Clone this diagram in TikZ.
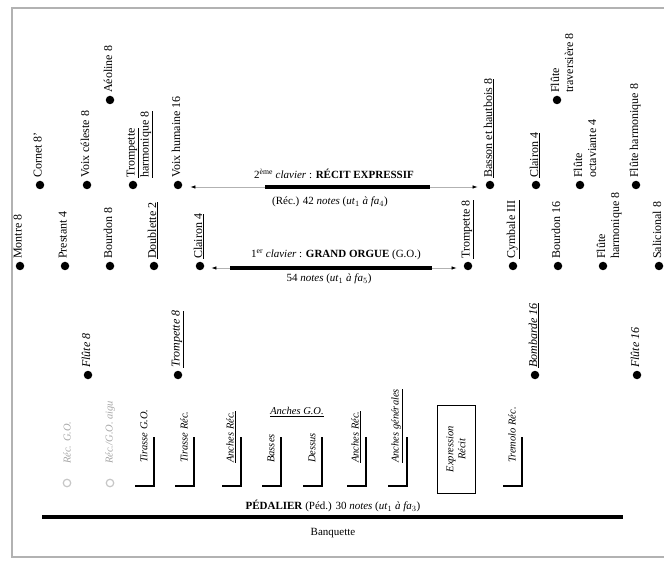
\documentclass[tikz,border=0pt]{standalone}
\usepackage{fontspec}
\setmainfont{Liberation Serif}
\usetikzlibrary{arrows.meta}
\newcommand\labstop[3][]{\node[lab,#1] at ([shift={(-6.5,-7)}]#2.center) {#3};}
\begin{document}
\begin{tikzpicture}[x=1pt,y=-1pt,
  stop/.style={circle,fill=black,inner sep=0pt,minimum size=8.5pt},
  lab/.style={rotate=90,anchor=north west,align=left,inner sep=0pt,font=\fontsize{12}{14}\selectfont},
  ital/.style={font=\fontsize{12}{14}\selectfont\itshape},
  plabel/.style={rotate=90,anchor=west,inner sep=0pt,align=center,font=\fontsize{10.5}{12}\selectfont\itshape},
  kbar/.style={line width=4pt},
  karrow/.style={gray!60,line width=0.6pt,-{Latex[length=5pt,width=3.5pt,black]}},
  pedal/.style={line width=2pt},
  coupler/.style={circle,draw=gray!45,line width=1.2pt,inner sep=0pt,minimum size=7.5pt},
  ktext/.style={font=\fontsize{11}{13}\selectfont,inner sep=0pt}
]
\useasboundingbox (0,0) rectangle (664,561);
% frame
\draw[gray!60,line width=2pt] (680,8) -- (12,8) -- (12,557) -- (680,557);

% Recit stops
\node[stop] (r1) at (40,185) {};
\node[stop] (r2) at (87,185) {};
\node[stop] (r3) at (110,100) {};
\node[stop] (r4) at (133,185) {};
\node[stop] (r5) at (178,185) {};
\node[stop] (r6) at (490,185) {};
\node[stop] (r7) at (536,185) {};
\node[stop] (r8) at (557,100) {};
\node[stop] (r9) at (580,185) {};
\node[stop] (r10) at (636,185) {};
\labstop{r1}{Cornet 8'}
\labstop{r2}{Voix céleste 8}
\labstop{r3}{Aéoline 8}
\labstop{r4}{\underline{Trompette}\\\underline{harmonique 8}}
\labstop{r5}{Voix humaine 16}
\labstop{r6}{\underline{Basson et hautbois 8}}
\labstop{r7}{\underline{Clairon 4}}
\labstop{r8}{Flûte\\traversière 8}
\labstop{r9}{Flûte\\octaviante 4}
\labstop{r10}{Flûte harmonique 8}

% Grand orgue stops
\node[stop] (g1) at (20,266) {};
\node[stop] (g2) at (65,266) {};
\node[stop] (g3) at (110,266) {};
\node[stop] (g4) at (154,266) {};
\node[stop] (g5) at (200,266) {};
\node[stop] (g6) at (468,266) {};
\node[stop] (g7) at (513,266) {};
\node[stop] (g8) at (558,266) {};
\node[stop] (g9) at (603,266) {};
\node[stop] (g10) at (659,266) {};
\labstop{g1}{Montre 8}
\labstop{g2}{Prestant 4}
\labstop{g3}{Bourdon 8}
\labstop{g4}{\underline{Doublette 2}}
\labstop{g5}{\underline{Clairon 4}}
\labstop{g6}{\underline{Trompette 8}}
\labstop{g7}{\underline{Cymbale III}}
\labstop{g8}{Bourdon 16}
\labstop{g9}{Flûte\\harmonique 8}
\labstop{g10}{Salicional 8}

% Pedal stops
\node[stop] (p1) at (88,375) {};
\node[stop] (p2) at (178,375) {};
\node[stop] (p3) at (535,375) {};
\node[stop] (p4) at (637,375) {};
\labstop[ital]{p1}{Flûte 8}
\labstop[ital]{p2}{\underline{Trompette 8}}
\labstop[ital]{p3}{\underline{Bombarde 16}}
\labstop[ital]{p4}{Flûte 16}

% Recit keyboard
\coordinate (recL) at (265,187);
\coordinate (recR) at (430,187);
\draw[kbar] (recL) -- (recR);
\draw[karrow] (recL) -- ([xshift=8pt]r5.east |- recL);
\draw[karrow] (recR) -- ([xshift=-8pt]r6.west |- recR);
\node[ktext] (rect) at (334,174) {2\textsuperscript{ème} \textit{clavier} : \textbf{RÉCIT EXPRESSIF}};
\node[ktext] (recb) at (330,202) {(Réc.) 42 \textit{notes} (\textit{ut}$_1$ \textit{à} \textit{fa}$_4$)};

% Grand orgue keyboard
\coordinate (goL) at (230,268);
\coordinate (goR) at (432,268);
\draw[kbar] (goL) -- (goR);
\draw[karrow] (goL) -- ([xshift=7pt]g5.east |- goL);
\draw[karrow] (goR) -- ([xshift=-7pt]g6.west |- goR);
\node[ktext] (got) at (336,255) {1\textsuperscript{er} \textit{clavier} : \textbf{GRAND ORGUE} (G.O.)};
\node[ktext] (gob) at (329,279) {54 \textit{notes} (\textit{ut}$_1$ \textit{à} \textit{fa}$_5$)};

% Pedalier
\coordinate (pedL) at (42,517);
\coordinate (pedR) at (623,517);
\draw[kbar] (pedL) -- (pedR);
\node[ktext] (pedt) at (333,506) {\textbf{PÉDALIER} (Péd.) 30 \textit{notes} (\textit{ut}$_1$ \textit{à} \textit{fa}$_3$)};
\node[ktext] (banq) at (333,533) {Banquette};

% couplers
\node[coupler] (c1) at (67,483) {};
\node[coupler] (c2) at (110,483) {};
\node[plabel,text=gray!70] at ([yshift=19pt]c1.center) {Réc. G.O.};
\node[plabel,text=gray!70] at ([yshift=19pt]c2.center) {Réc./G.O. \textit{aigu}};

% pedals (L shapes)
\foreach \x/\t in {154/{Tirasse G.O.}, 194/{Tirasse Réc.}, 241/{\underline{Anches Réc.}}, 281/{Basses}, 322/{Dessus}, 366/{\underline{Anches Réc.}}, 407/{\underline{Anches générales}}, 522/{Tremolo Réc.}}{
  \coordinate (top\x) at (\x,437);
  \coordinate (foot\x) at (\x-19,486);
  \draw[pedal] (foot\x) -- (foot\x -| top\x) -- (top\x);
  \node[plabel] at (\x-10,463) {\t};
}
\node[font=\fontsize{10.5}{12}\selectfont\itshape,inner sep=0pt] (ago) at (297,412) {\underline{Anches G.O.}};

% expression box
\node[draw,line width=1pt,minimum width=38pt,minimum height=88pt,inner sep=0pt] (expr) at (456,449) {};
\node[rotate=90,align=center,font=\fontsize{10.5}{12}\selectfont\itshape] at (expr.center) {Expression\\Récit};
\end{tikzpicture}
\end{document}
